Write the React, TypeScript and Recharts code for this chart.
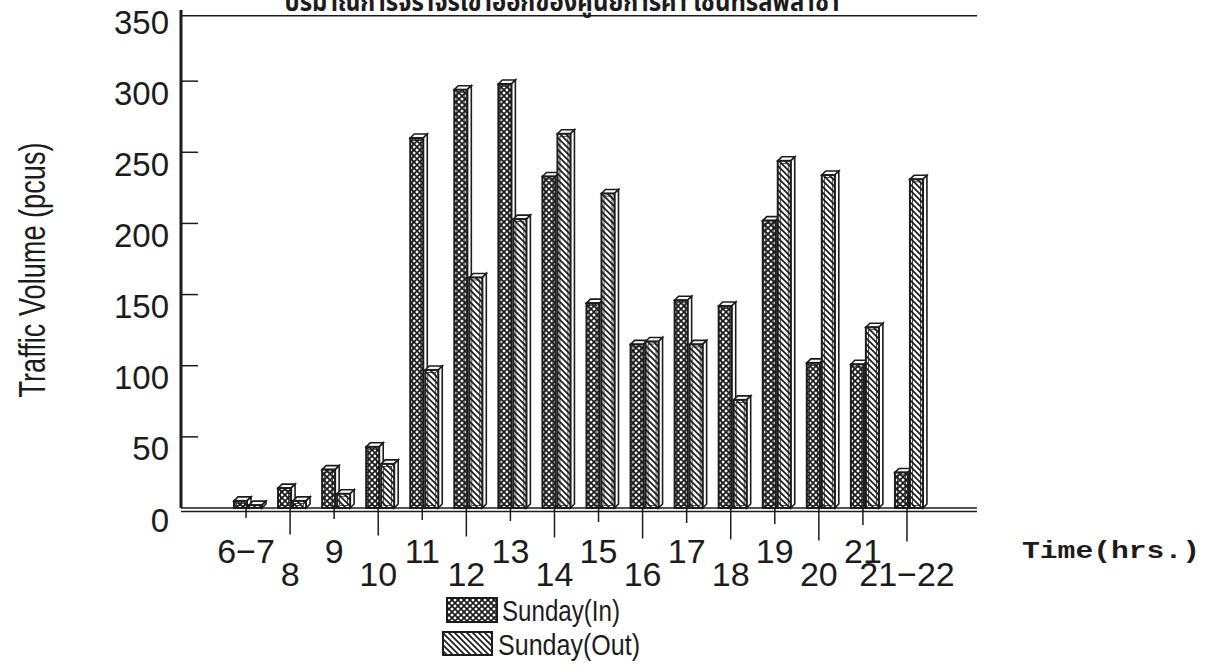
import { BarChart, Bar, XAxis, YAxis, Legend, ReferenceLine } from "recharts";

const hours = ["6−7", "8", "9", "10", "11", "12", "13", "14", "15", "16", "17", "18", "19", "20", "21", "21−22"];
const sundayIn = [5, 14, 27, 43, 260, 294, 298, 233, 144, 115, 146, 142, 202, 102, 101, 25];
const sundayOut = [2, 5, 10, 31, 97, 162, 203, 263, 221, 117, 115, 76, 244, 234, 127, 231];
const yTicks = [0, 50, 100, 150, 200, 250, 300, 350];

const data = hours.map((hour, i) => ({ hour, sin: sundayIn[i], sout: sundayOut[i] }));

const INK = "#1c1c1c";
const SANS = "'Liberation Sans', Arial, sans-serif";

function Bar3D(props: any) {
  const { x, y, width, height, fill } = props;
  if (!height || height <= 0) return null;
  const d = 4;
  const x0 = x + 2;
  return (
    <g>
      <polygon
        points={`${x0},${y} ${x0 + d},${y - d} ${x0 + width + d},${y - d} ${x0 + width},${y}`}
        fill="#fff"
        stroke={INK}
        strokeWidth={1.6}
      />
      <polygon
        points={`${x0 + width},${y} ${x0 + width + d},${y - d} ${x0 + width + d},${y + height - d} ${x0 + width},${y + height}`}
        fill="#fff"
        stroke={INK}
        strokeWidth={1.6}
      />
      <rect x={x0} y={y} width={width} height={height} fill={fill} stroke={INK} strokeWidth={2} />
      {height > 6 && (
        <rect x={x0 + 2.5} y={y + 2.5} width={width - 5} height={height - 5} fill="none" stroke={INK} strokeWidth={0.8} />
      )}
    </g>
  );
}

function YTick({ x, y, payload }: any) {
  const v = payload.value;
  return (
    <g>
      {v !== 0 && v !== 350 && <line x1={x} y1={y} x2={x + 17} y2={y} stroke={INK} strokeWidth={1.5} />}
      <text x={x - 12} y={y + 12} textAnchor="end" dominantBaseline="central" fontSize={33} fontFamily={SANS} fill={INK}>
        {v}
      </text>
    </g>
  );
}

function XTick({ x, y, payload, index }: any) {
  const low = index % 2 === 1;
  const len = (low ? 26 : 10) + index * 0.5;
  return (
    <g>
      <line x1={x} y1={y} x2={x} y2={y + len} stroke={INK} strokeWidth={1.5} />
      <text x={x} y={y + (low ? 66 : 43)} textAnchor="middle" dominantBaseline="central" fontSize={34} fontFamily={SANS} fill={INK}>
        {payload.value}
      </text>
    </g>
  );
}

function LegendBox() {
  return (
    <svg width={280} height={72}>
      <rect x={7} y={4} width={50} height={24} fill="url(#crossIn)" stroke={INK} strokeWidth={2} />
      <text x={62} y={17} dominantBaseline="central" fontSize={29} fontFamily={SANS} textLength={118} lengthAdjust="spacingAndGlyphs" fill={INK}>
        Sunday(In)
      </text>
      <rect x={3} y={38} width={49} height={23} fill="url(#diagOut)" stroke={INK} strokeWidth={2} />
      <text x={58} y={51} dominantBaseline="central" fontSize={29} fontFamily={SANS} textLength={142} lengthAdjust="spacingAndGlyphs" fill={INK}>
        Sunday(Out)
      </text>
    </svg>
  );
}

export default function App() {
  return (
    <div style={{ position: "absolute", left: 0, top: 0, width: 1232, height: 672, background: "#fff" }}>
      <BarChart
        width={1232}
        height={672}
        data={data}
        margin={{ top: 10, right: 255, bottom: 124, left: 101 }}
        barSize={13}
        barGap={2}
      >
        <defs>
          <pattern id="crossIn" patternUnits="userSpaceOnUse" width={6} height={6}>
            <rect width={6} height={6} fill="#fff" />
            <path d="M0,0 L6,6 M6,0 L0,6" stroke={INK} strokeWidth={1.7} />
          </pattern>
          <pattern id="diagOut" patternUnits="userSpaceOnUse" width={6} height={6}>
            <rect width={6} height={6} fill="#fff" />
            <path d="M0,0 L6,6 M-3,3 L3,9 M3,-3 L9,3" stroke={INK} strokeWidth={1.7} />
          </pattern>
        </defs>
        <text
          x={562}
          y={11}
          textAnchor="middle"
          fontSize={26}
          fontWeight="bold"
          fontFamily="'Noto Sans Thai', 'Noto Sans', sans-serif"
          textLength={555}
          lengthAdjust="spacingAndGlyphs"
          fill={INK}
        >
          ปริมาณการจราจรเข้าออกของศูนย์การค้า เซ็นทรัลพลาซ่า
        </text>
        <text
          x={32}
          y={270}
          transform="rotate(-90 32 270)"
          textAnchor="middle"
          dominantBaseline="central"
          fontSize={36}
          fontFamily="'Liberation Sans Narrow', 'Arial Narrow', 'Liberation Sans', sans-serif"
          textLength={255}
          lengthAdjust="spacingAndGlyphs"
          fill={INK}
        >
          Traffic Volume (pcus)
        </text>
        <text
          x={1022}
          y={551}
          dominantBaseline="central"
          fontSize={24}
          fontWeight="bold"
          fontFamily="'Liberation Mono', 'Courier New', monospace"
          textLength={178}
          lengthAdjust="spacingAndGlyphs"
          fill={INK}
        >
          Time(hrs.)
        </text>
        <XAxis
          dataKey="hour"
          interval={0}
          height={40}
          padding={{ left: 43, right: 48 }}
          axisLine={{ stroke: INK, strokeWidth: 1.5 }}
          tickLine={false}
          tickSize={0}
          tickMargin={0}
          tick={<XTick />}
        />
        <YAxis
          domain={[0, 350]}
          ticks={yTicks}
          width={80}
          axisLine={{ stroke: INK, strokeWidth: 3 }}
          tickLine={false}
          tickSize={0}
          tickMargin={0}
          tick={<YTick />}
        />
        <YAxis yAxisId="r" orientation="right" width={0} domain={[0, 350]} tick={false} tickLine={false} axisLine={{ stroke: INK, strokeWidth: 2 }} />
        <ReferenceLine y={346} stroke={INK} strokeWidth={1.5} ifOverflow="visible" />
        <ReferenceLine y={-2.5} stroke={INK} strokeWidth={1.5} ifOverflow="visible" />
        <Legend
          layout="horizontal"
          verticalAlign="middle"
          align="center"
          content={<LegendBox />}
          wrapperStyle={{ left: 440, top: 594, width: 280, height: 72 }}
        />
        <Bar dataKey="sin" name="Sunday(In)" fill="url(#crossIn)" shape={<Bar3D />} isAnimationActive={false} />
        <Bar dataKey="sout" name="Sunday(Out)" fill="url(#diagOut)" shape={<Bar3D />} isAnimationActive={false} />
      </BarChart>
    </div>
  );
}
